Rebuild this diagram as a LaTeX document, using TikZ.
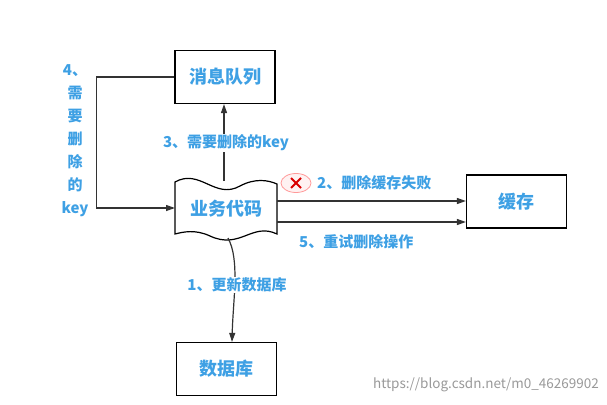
\documentclass[tikz,border=0pt]{standalone}
\usepackage{fontspec}
\setmainfont{Noto Sans CJK SC}
\usetikzlibrary{arrows.meta,shapes.geometric}
\definecolor{lblue}{RGB}{62,160,228}
\tikzset{
	box/.style={draw,line width=1.2pt,minimum width=100pt,minimum height=53pt,text=lblue,font=\bfseries\fontsize{18}{20}\selectfont},
	lbl/.style={text=lblue,font=\bfseries\fontsize{15}{17}\selectfont,inner sep=1pt},
	arr/.style={-{Triangle[length=9pt,width=6pt]},line width=1.2pt,draw=black!80}
}
\begin{document}
\begin{tikzpicture}[x=1pt,y=-1pt]
	\useasboundingbox (0,0) rectangle (607,404);
	\node[box] (mq) at (225,77) {消息队列};
	\node[box] (cache) at (516.5,201.5) {缓存};
	\node[box] (db) at (226.5,369) {数据库};
	
	% business code (wavy shape)
	\draw[line width=1.2pt,fill=white] (175,182) .. controls (200,168) and (215,200) .. (240,186)
		.. controls (255,178) and (268,180) .. (277,184) -- (277,234)
		.. controls (252,222) and (240,250) .. (210,236) .. controls (195,229) and (183,232) .. (175,234) -- cycle;
	\node[lbl,font=\bfseries\fontsize{18}{20}\selectfont] (biz) at (226,209) {业务代码};
	\coordinate (biztop) at (224,181);
	\coordinate (bizleft) at (175,208);
	\coordinate (bizbot) at (228,238);
	
	\draw[arr] (biztop) -- (mq.south -| biztop);
	\node[lbl,fill=white] (l3) at (226,143) {3、需要删除的key};
	
	\draw[arr] (mq.west) -- ++(-78,0) |- (bizleft);
	\node[lbl,align=center,font=\bfseries\fontsize{15}{23}\selectfont] (l4) at (75,141) {4、\\需\\要\\删\\除\\的\\key};
	
	\draw[arr] (277,201) -- (cache.west |- 0,201);
	\draw[arr] (277,222) -- (cache.west |- 0,222);
	\node[draw=red!40,fill=red!5,ellipse,minimum width=30pt,minimum height=19pt,inner sep=0pt,line width=0.8pt] (x) at (296,183) {};
	\draw[red!85!black,line width=2pt] (291,178) -- (301,188) (301,178) -- (291,188);
	\node[lbl,anchor=west] (l2) at (316,183) {2、删除缓存失败};
	\node[lbl,anchor=west] (l5) at (298,242) {5、重试删除操作};
	
	\draw[arr] (bizbot) .. controls (240,260) and (233,300) .. (db.north -| 232,0);
	\node[lbl,fill=white] (l1) at (237,285) {1、更新数据库};
	
	\node[text=black!40,font=\fontsize{13.5}{15}\selectfont] (wm) at (486,385) {https://blog.csdn.net/m0\_46269902};
\end{tikzpicture}
\end{document}
